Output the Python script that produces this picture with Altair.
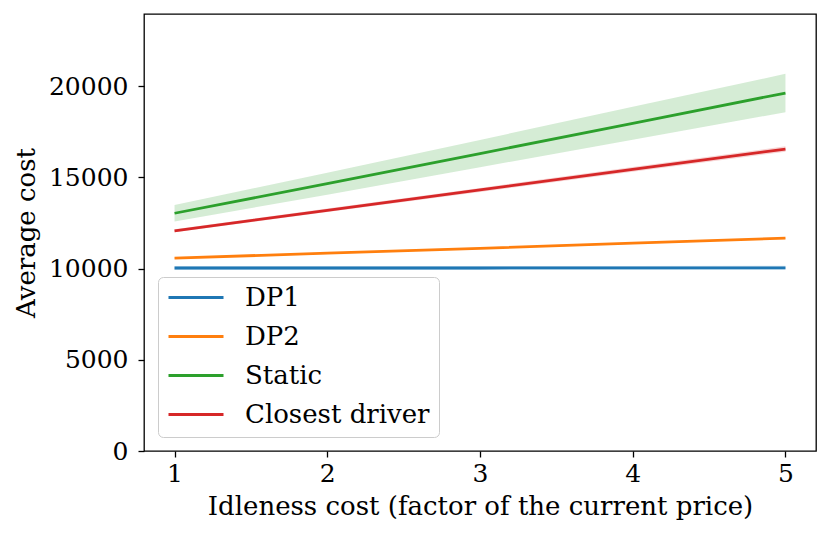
import altair as alt
import pandas as pd

# Data
x_vals = [1, 2, 3, 4, 5]
series_names = ["DP1", "DP2", "Static", "Closest driver"]
colors = ["#1f77b4", "#ff7f0e", "#2ca02c", "#d62728"]

dp1_mean = [10030, 10030, 10030, 10035, 10040]
dp1_half = [110, 110, 110, 110, 110]
dp2_mean = [10570, 10840, 11110, 11390, 11665]
dp2_half = [40, 40, 40, 40, 40]
static_mean = [13030, 14650, 16300, 17960, 19620]
static_half = [450, 600, 750, 900, 1050]
closest_mean = [12070, 13190, 14310, 15430, 16550]
closest_half = [80, 95, 110, 130, 150]

means = [dp1_mean, dp2_mean, static_mean, closest_mean]
halves = [dp1_half, dp2_half, static_half, closest_half]

rows = []
for i, name in enumerate(series_names):
    for j, xv in enumerate(x_vals):
        m = means[i][j]
        h = halves[i][j]
        rows.append({"x": xv, "series": name, "order": i,
                     "mean": m, "lo": m - h, "hi": m + h})
df = pd.DataFrame(rows)

FONT = "DejaVu Serif"

xscale = alt.Scale(domain=[0.8, 5.2], nice=False, zero=False)
yscale = alt.Scale(domain=[0, 23950], nice=False)
cscale = alt.Scale(domain=series_names, range=colors)

xaxis = alt.Axis(values=x_vals, format="d", title="Idleness cost (factor of the current price)",
                 grid=False, domain=False, tickColor="black", tickWidth=1.3, tickSize=6,
                 labelPadding=4, labelFont=FONT, labelFontSize=25, labelColor="black",
                 titleFont=FONT, titleFontSize=26, titleFontWeight="normal", titleColor="black",
                 titlePadding=7)
yaxis = alt.Axis(values=[0, 5000, 10000, 15000, 20000], format="d", title="Average cost",
                 grid=False, domain=False, tickColor="black", tickWidth=1.3, tickSize=6,
                 labelPadding=10, labelFont=FONT, labelFontSize=25, labelColor="black",
                 titleFont=FONT, titleFontSize=26, titleFontWeight="normal", titleColor="black",
                 titlePadding=9)

legend = alt.Legend(
    title=None, orient="none", legendX=14, legendY=263,
    symbolType="stroke", symbolSize=3025, symbolStrokeWidth=2.8, symbolOpacity=1,
    labelFont=FONT, labelFontSize=26, labelColor="black", labelOffset=20, labelLimit=0,
    fillColor="rgba(255,255,255,0.8)", strokeColor="#cccccc",
    cornerRadius=5, padding=9, rowPadding=12, clipHeight=23,
)

base = alt.Chart(df)

band = base.mark_area(opacity=0.2).encode(
    x=alt.X("x:Q", scale=xscale, axis=xaxis),
    y=alt.Y("lo:Q", scale=yscale, axis=yaxis),
    y2="hi:Q",
    color=alt.Color("series:N", scale=cscale, legend=legend),
    detail="series:N",
)

lines = base.mark_line(strokeWidth=2.8).encode(
    x=alt.X("x:Q", scale=xscale),
    y=alt.Y("mean:Q", scale=yscale),
    color=alt.Color("series:N", scale=cscale, legend=legend),
    order="order:Q",
)

chart = alt.layer(band, lines).properties(
    width=672, height=437,
    autosize=alt.AutoSizeParams(type="none"),
    padding={"left": 136, "top": 6, "right": 7, "bottom": 79},
    background="white",
).configure_view(stroke="black", strokeWidth=1.3)

chart.save("out.html", embed_options={"renderer": "svg", "actions": False})
